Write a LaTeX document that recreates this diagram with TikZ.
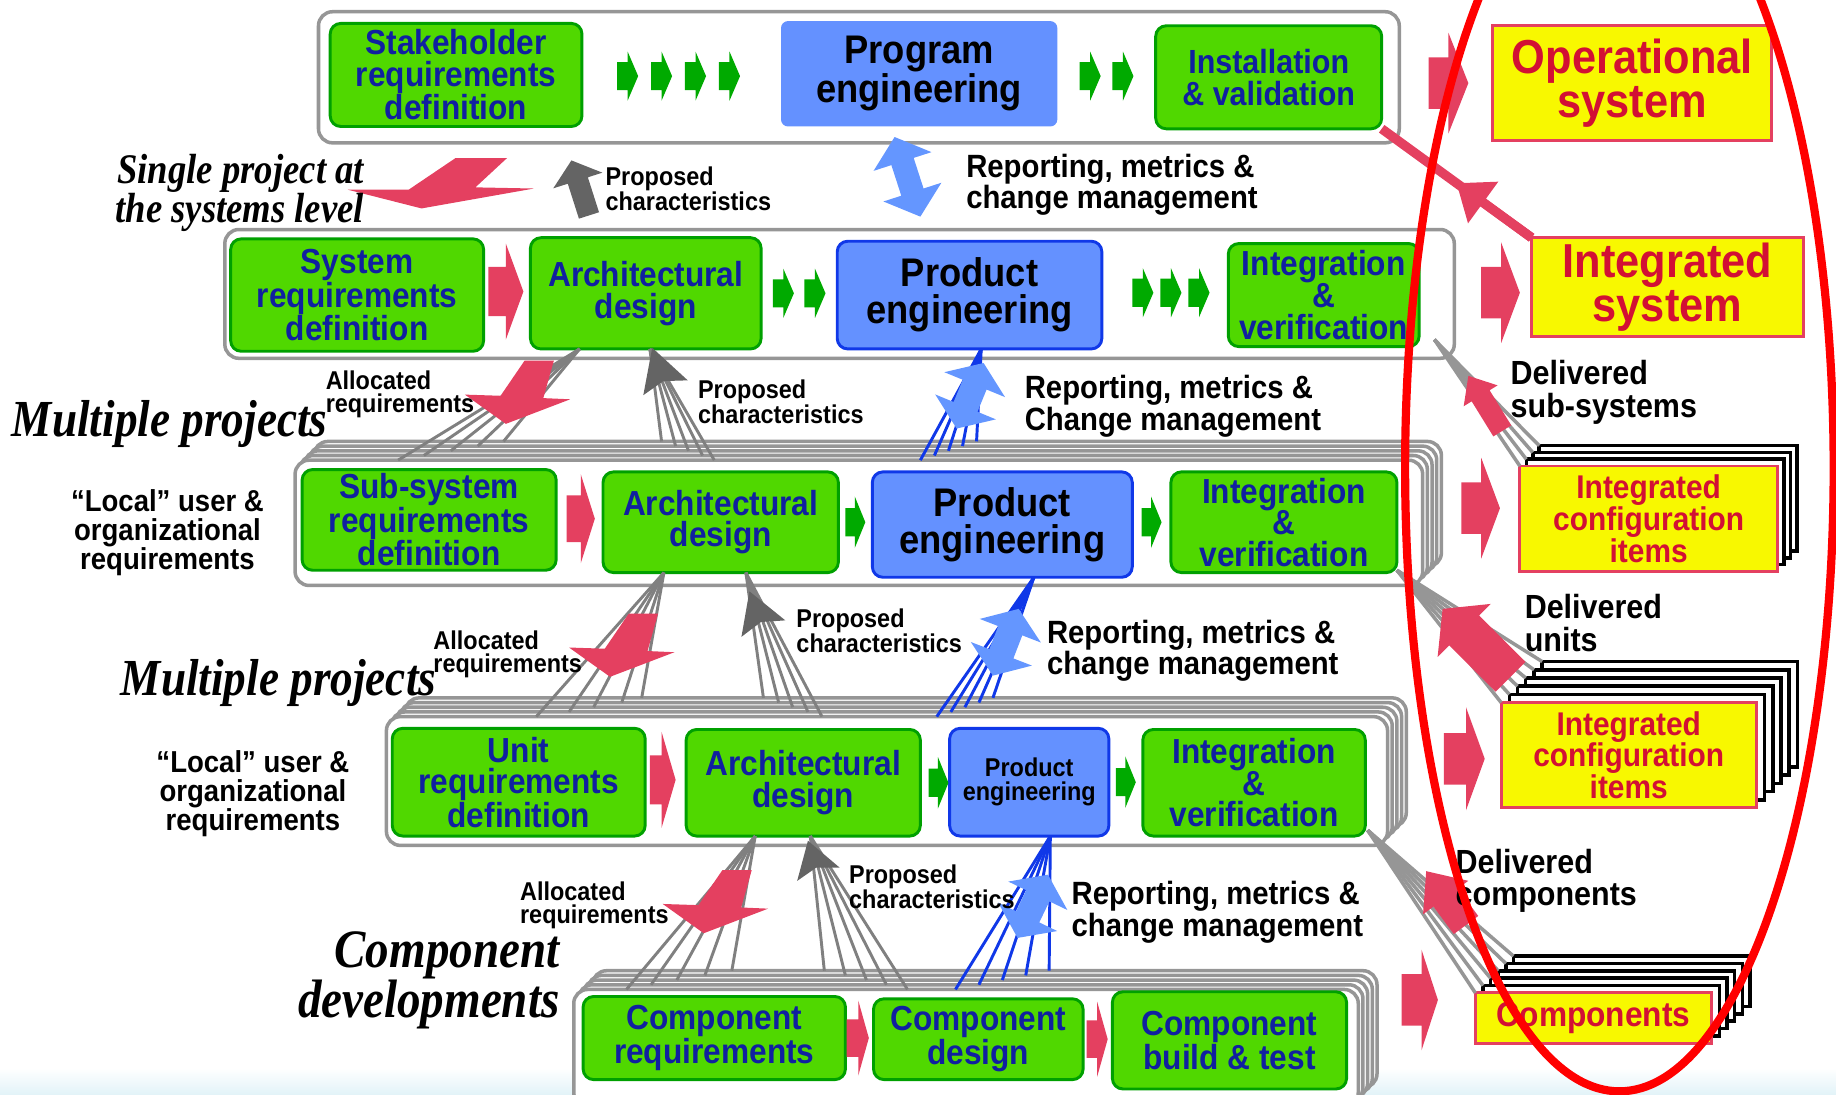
\documentclass[tikz,border=0pt]{standalone}
\usepackage{fontspec}
\setmainfont{Liberation Sans}[FakeStretch=0.91]
\newfontfamily\serifbi{Liberation Serif}[FakeStretch=0.87]
\usetikzlibrary{calc}

\definecolor{gfill}{RGB}{80,216,0}
\definecolor{gline}{RGB}{0,160,0}
\definecolor{navy}{RGB}{16,32,160}
\definecolor{bfill}{RGB}{100,145,255}
\definecolor{bline}{RGB}{16,56,232}
\definecolor{chev}{RGB}{0,170,0}
\definecolor{redc}{RGB}{228,64,96}
\definecolor{yfill}{RGB}{248,248,0}
\definecolor{crim}{RGB}{210,16,52}
\definecolor{ogray}{RGB}{150,150,150}
\definecolor{fgray}{RGB}{128,128,128}
\definecolor{dgray}{RGB}{100,100,100}
\definecolor{lblue}{RGB}{100,150,255}
\definecolor{dblue}{RGB}{16,56,232}
\definecolor{ered}{RGB}{255,0,0}
\definecolor{haze}{RGB}{226,243,248}

% tall, slightly condensed bold sans; #1 nominal size, #2 leading
\newcommand\fs[2]{\fontsize{\fpeval{#1*1.1}}{\fpeval{#2*1.08}}\selectfont\bfseries}
\newcommand\fsi[2]{\serifbi\fontsize{\fpeval{#1*1.2}}{\fpeval{#2*1.05}}\selectfont\bfseries\itshape}

% block arrow: style, tail, tip, half shaft, half head, head length
\newcommand\blockarrow[6]{%
  \coordinate (ba-c) at ($(#3)!#6!(#2)$);
  \fill[#1] ($(#2)!#4!90:(#3)$) -- ($(ba-c)!#4!-90:(#2)$) -- ($(ba-c)!#5!-90:(#2)$) -- (#3)
    -- ($(ba-c)!#5!90:(#2)$) -- ($(ba-c)!#4!90:(#2)$) -- ($(#2)!#4!-90:(#3)$) -- cycle;}
% horizontal block arrow: style, start, length, half shaft, half head, head length
\newcommand\harrow[6]{%
  \coordinate (ha-t) at (#2);
  \coordinate (ha-h) at ($(ha-t)+(#3,0)$);
  \blockarrow{#1}{ha-t}{ha-h}{#4}{#5}{#6}}
% double-headed block arrow: style, tip A, tip B, half shaft, half head, head length
\newcommand\dblarrow[6]{%
  \coordinate (da-a) at ($(#2)!#6!(#3)$);
  \coordinate (da-b) at ($(#3)!#6!(#2)$);
  \fill[#1] (#2) -- ($(da-a)!#5!90:(#3)$) -- ($(da-a)!#4!90:(#3)$) -- ($(da-b)!#4!-90:(#2)$)
    -- ($(da-b)!#5!-90:(#2)$) -- (#3) -- ($(da-b)!#5!90:(#2)$) -- ($(da-b)!#4!90:(#2)$)
    -- ($(da-a)!#4!-90:(#3)$) -- ($(da-a)!#5!-90:(#3)$) -- cycle;}
% dart head: style, tip, direction point, wing distance, notch distance, half width
\newcommand\dart[6]{%
  \coordinate (dt-w) at ($(#2)!#4!(#3)$);
  \fill[#1] (#2) -- ($(dt-w)!#6!90:(#2)$) -- ($(#2)!#5!(#3)$) -- ($(dt-w)!#6!-90:(#2)$) -- cycle;}
% stacked copies behind a box: style, name, cx, cy, w, h, count, dx, dy
\newcommand\copies[9]{%
  \foreach \k in {#7,...,1}{%
    \node[#1, minimum width=#5pt, minimum height=#6pt] (#2-\k) at ({#3+\k*(#8)},{#4+\k*(#9)}) {};}}
% fan of lines from one source to the tops of a stack: style, source, stack, k/x list
\newcommand\fan[4]{%
  \foreach \k/\tx in {#4}{\draw[#1] let \p1=(#3-\k.north) in (#2) -- (\tx pt,\y1);}}

\tikzset{
  outerbox/.style={draw=ogray, fill=white, line width=3pt, rounded corners=12pt, inner sep=0pt, outer sep=0pt},
  gbox/.style={draw=gline, fill=gfill, line width=2.5pt, rounded corners=9pt, inner sep=0pt, outer sep=0pt, text=navy, align=center, font=\fs{27}{25}},
  bluebox/.style={draw=bline, fill=bfill, line width=2.5pt, rounded corners=9pt, inner sep=0pt, outer sep=0pt, align=center, font=\fs{31}{29}},
  progbox/.style={fill=bfill, rounded corners=6pt, inner sep=0pt, outer sep=0pt, align=center, font=\fs{31}{29}},
  yelbox/.style={draw=redc, fill=yfill, line width=2.5pt, inner sep=0pt, outer sep=0pt, text=crim, align=center},
  blackbox/.style={draw=black, fill=white, line width=3pt, inner sep=0pt, outer sep=0pt},
  smallnote/.style={inner sep=0pt, align=left, font=\fs{20}{18.5}},
  reptext/.style={inner sep=0pt, align=left, font=\fs{25}{22}},
  delivtext/.style={inner sep=0pt, align=left, font=\fs{26}{25.5}},
  localtext/.style={inner sep=0pt, align=center, font=\fs{23.5}{23}},
  lvltext/.style={inner sep=0pt, font=\fsi{37}{36}},
  gfan/.style={draw=fgray, line width=2.5pt},
  bfan/.style={draw=dblue, line width=2.5pt},
  dfan/.style={draw=ogray, line width=3pt},
  bolt/.pic={\fill[redc] (16,-54) -- (41,-54) -- (32,-22) -- (55,-21) -- (0,0) -- (-35,-25) -- (-4.5,-24) -- cycle;},
  topbolt/.pic={\fill[redc] (29,-43) -- (73,-43) -- (46,-18) -- (96,-17) -- (0,0) -- (-63,-16) -- (-11,-16) -- cycle;},
}

\begin{document}
\begin{tikzpicture}[x=1pt,y=-1pt]
\path[use as bounding box] (0,0) rectangle (1568,935);
\clip (0,0) rectangle (1568,935);
\fill[top color=white, bottom color=haze] (0,912) rectangle (1568,935);

% ---------- system level, programme row
\node[outerbox, minimum width=923pt, minimum height=112pt] (R1) at (733.5,66) {};
\node[gbox, minimum width=215pt, minimum height=88pt] (stake) at (389.5,64) {Stakeholder\\requirements\\definition};
\node[progbox, minimum width=236pt, minimum height=90pt] (prog) at (785,63) {Program\\engineering};
\node[gbox, minimum width=193pt, minimum height=88pt, font=\fs{26}{25}] (inst) at (1083.5,66) {Installation\\\& validation};
\node[yelbox, minimum width=238pt, minimum height=98pt, font=\fs{37}{34.5}] (opsys) at (1394,71) {Operational\\system};
\foreach \d in {30,59,88,117} {\harrow{chev}{$(stake.east)+(\d,1)$}{18}{12pt}{21pt}{9pt}}
\foreach \d in {19,47} {\harrow{chev}{$(prog.east)+(\d,2)$}{18}{12pt}{21pt}{9pt}}
\harrow{redc}{$(R1.east)+(25,5)$}{34}{22pt}{43pt}{17pt}

% ---------- system row
\node[outerbox, minimum width=1050pt, minimum height=110pt] (R2) at (717,251) {};
\node[gbox, minimum width=216pt, minimum height=96pt] (sysreq) at (305,252) {System\\requirements\\definition};
\node[gbox, minimum width=197pt, minimum height=95pt] (arch2) at (551.5,250.5) {Architectural\\design};
\node[bluebox, minimum width=226pt, minimum height=92pt] (prod2) at (828,252) {Product\\engineering};
\node[gbox, minimum width=163pt, minimum height=88pt] (integ2) at (1130.5,252) {Integration\\\&\\verification};
\node[yelbox, minimum width=232pt, minimum height=84pt, font=\fs{37}{34.5}] (intsys) at (1424,245) {Integrated\\system};
\harrow{redc}{$(sysreq.east)+(4,-3)$}{30}{21pt}{41pt}{15pt}
\foreach \d in {10,37} {\harrow{chev}{$(arch2.east)+(\d,0)$}{18}{12pt}{21pt}{9pt}}
\foreach \d in {26,50,74} {\harrow{chev}{$(prod2.east)+(\d,-2)$}{18}{12pt}{21pt}{9pt}}
\harrow{redc}{$(R2.east)+(23,-1)$}{33}{22pt}{43pt}{16pt}

% ---------- sub-system row
\copies{outerbox}{R3}{733.5}{446.5}{963}{107}{4}{4}{-4}
\node[outerbox, minimum width=963pt, minimum height=107pt, alias=R3-0] (R3) at (733.5,446.5) {};
\node[gbox, minimum width=217pt, minimum height=86pt] (subreq) at (366.5,444) {Sub-system\\requirements\\definition};
\node[gbox, minimum width=201pt, minimum height=86pt] (arch3) at (615.5,446) {Architectural\\design};
\node[bluebox, minimum width=222pt, minimum height=90pt] (prod3) at (856,448) {Product\\engineering};
\node[gbox, minimum width=193pt, minimum height=86pt] (integ3) at (1096.5,446) {Integration\\\&\\verification};
\harrow{redc}{$(subreq.east)+(9,-1)$}{24}{20pt}{38pt}{12pt}
\harrow{chev}{$(arch3.east)+(6,0)$}{17}{12pt}{22pt}{9pt}
\harrow{chev}{$(prod3.east)+(8,-2)$}{17}{12pt}{22pt}{9pt}
\harrow{redc}{$(R3.east)+(33,-12.5)$}{33}{22pt}{43pt}{16pt}
\copies{blackbox}{ici1}{1408}{443}{220}{90}{3}{5.5}{-5.8}
\node[yelbox, minimum width=220pt, minimum height=90pt, font=\fs{25.5}{23}, alias=ici1-0] (ici1) at (1408,443) {Integrated\\configuration\\items};

% ---------- unit row
\copies{outerbox}{R4}{757.5}{667}{855}{110}{4}{4}{-4}
\node[outerbox, minimum width=855pt, minimum height=110pt, alias=R4-0] (R4) at (757.5,667) {};
\node[gbox, minimum width=216pt, minimum height=92pt] (unitreq) at (443,668) {Unit\\requirements\\definition};
\node[gbox, minimum width=200pt, minimum height=91pt] (arch4) at (686,668.5) {Architectural\\design};
\node[bluebox, minimum width=136pt, minimum height=92pt, font=\fs{20}{19}] (prod4) at (879,668) {Product\\engineering};
\node[gbox, minimum width=190pt, minimum height=91pt] (integ4) at (1071,668.5) {Integration\\\&\\verification};
\harrow{redc}{$(unitreq.east)+(4,-2)$}{22}{21pt}{41pt}{12pt}
\harrow{chev}{$(arch4.east)+(7,0)$}{17}{12pt}{22pt}{9pt}
\harrow{chev}{$(prod4.east)+(6,0)$}{17}{12pt}{22pt}{9pt}
\harrow{redc}{$(R4.east)+(48,-19)$}{35}{22pt}{44pt}{16pt}
\copies{blackbox}{ici2}{1391}{645}{218}{90}{5}{7}{-7}
\node[yelbox, minimum width=218pt, minimum height=90pt, font=\fs{25.5}{23}, alias=ici2-0] (ici2) at (1391,645) {Integrated\\configuration\\items};

% ---------- component row
\copies{outerbox}{R5}{825}{895}{670}{100}{4}{4}{-4}
\node[outerbox, minimum width=670pt, minimum height=100pt, alias=R5-0] (R5) at (825,895) {};
\node[gbox, minimum width=224pt, minimum height=71pt] (compreq) at (610,886.5) {Component\\requirements};
\node[gbox, minimum width=179pt, minimum height=69pt] (compdes) at (835.5,887.5) {Component\\design};
\node[gbox, minimum width=200pt, minimum height=83pt] (compbld) at (1050,888.5) {Component\\build \& test};
\harrow{redc}{$(compreq.east)+(1,0)$}{19}{16pt}{32pt}{9pt}
\harrow{redc}{$(compdes.east)+(3,0)$}{18}{16pt}{32pt}{9pt}
\harrow{redc}{$(R5.east)+(37,-41)$}{31}{22pt}{43pt}{14pt}
\copies{blackbox}{comp}{1361}{869.5}{202}{43}{5}{6.5}{-6.3}
\node[yelbox, minimum width=202pt, minimum height=43pt, font=\fs{27}{27}, alias=comp-0] (comp) at (1361,869.5) {Components};

% ---------- flows between levels
\coordinate (A23) at ($(arch2.south west)+(42,0)$);
\coordinate (P23) at ($(arch2.south west)+(102,0)$);
\coordinate (B23) at ($(prod2.south west)+(123,0)$);
\coordinate (A34) at ($(arch3.south west)+(52,0)$);
\coordinate (P34) at ($(arch3.south west)+(122,0)$);
\coordinate (B34) at ($(prod3.south west)+(138,0)$);
\coordinate (A45) at ($(arch4.south west)+(59,0)$);
\coordinate (P45) at ($(arch4.south west)+(106,0)$);
\coordinate (B45) at ($(prod4.south west)+(86,0)$);
\fan{gfan}{A23}{R3}{0/340,1/362,2/385,3/408,4/430}
\fan{gfan}{P23}{R3}{0/610,1/600,2/588,3/577,4/565}
\fan{bfan}{B23}{R3}{0/786,1/798,2/810,3/822,4/834}
\fan{gfan}{A34}{R4}{0/458,1/486,2/507,3/531,4/548}
\fan{gfan}{P34}{R4}{0/702,1/690,2/677,3/665,4/652}
\fan{bfan}{B34}{R4}{0/800,1/812,2/824,3/836,4/848}
\fan{gfan}{A45}{R5}{0/535,1/556,2/578,3/602,4/625}
\fan{gfan}{P45}{R5}{0/775,1/757,2/740,3/722,4/704}
\fan{bfan}{B45}{R5}{0/816,1/836,2/856,3/876,4/896}

\pic at (360,178) {topbolt};
\blockarrow{dgray}{503,184}{488,137}{9pt}{22pt}{18pt}
\dblarrow{lblue}{764,117}{786,185}{10pt}{26pt}{22pt}

\pic at (432,362) {bolt};
\dart{dgray}{557,297}{568,330}{36pt}{30pt}{20pt}
\dblarrow{lblue}{840,310}{817,366}{11pt}{28pt}{20pt}

\pic at (521,578) {bolt};
\dart{dgray}{640,505}{652,537}{34pt}{28pt}{20pt}
\dblarrow{lblue}{870,520}{848,577}{11pt}{28pt}{20pt}

\pic at (601,797) {bolt};
\dart{dgray}{690,718}{700,750}{30pt}{24pt}{19pt}
\dblarrow{lblue}{895,747}{869,801}{11pt}{28pt}{20pt}

% ---------- deliveries upwards
\coordinate (D23) at ($(integ2.south east)+(13,-6)$);
\foreach \k in {0,...,3} {\draw[dfan] (D23) -- (ici1-\k.north west);}
\coordinate (D34) at ($(integ3.south east)+(0,-2)$);
\foreach \k in {0,...,5} {\draw[dfan] (D34) -- (ici2-\k.north west);}
\coordinate (D45) at ($(integ4.south east)+(2,-5)$);
\foreach \k in {0,...,5} {\draw[dfan] (D45) -- (comp-\k.north west);}
\blockarrow{redc}{1283,368}{1254,321}{9pt}{17pt}{20pt}
\blockarrow{redc}{1290,578}{1232,520}{18pt}{32pt}{26pt}
\blockarrow{redc}{1252,790}{1218,744}{13pt}{24pt}{28pt}
\draw[redc, line width=8pt] (intsys.north west) -- (inst.south east);
\coordinate (dm) at ($(intsys.north west)!0.5!(inst.south east)$);
\blockarrow{redc}{intsys.north west}{dm}{4pt}{22pt}{28pt}

% ---------- labels
\node[anchor=east, align=right, inner sep=0pt, font=\fsi{30}{28}] (single) at (311,165) {Single project at\\the systems level};
\node[smallnote, anchor=west] (pc1) at (517,161) {Proposed\\characteristics};
\node[reptext, anchor=west] (rm1) at (825,158) {Reporting, metrics \&\\change management};
\node[lvltext, anchor=west] (mp1) at (10,362) {Multiple projects};
\node[smallnote, anchor=west] (ar2) at (278,337) {Allocated\\requirements};
\node[smallnote, anchor=west] (pc2) at (596,343) {Proposed\\characteristics};
\node[reptext, anchor=west] (rm2) at (875,347) {Reporting, metrics \&\\Change management};
\node[delivtext, anchor=west] (ds) at (1290,335) {Delivered\\sub-systems};
\node[localtext] (loc3) at (143,455) {“Local” user \&\\organizational\\requirements};
\node[lvltext, anchor=west] (mp2) at (103,583) {Multiple projects};
\node[smallnote, anchor=west] (ar3) at (370,559) {Allocated\\requirements};
\node[smallnote, anchor=west] (pc3) at (680,539) {Proposed\\characteristics};
\node[reptext, anchor=west] (rm3) at (894,556) {Reporting, metrics \&\\change management};
\node[delivtext, anchor=west] (du) at (1302,532) {Delivered\\units};
\node[localtext] (loc4) at (216,678) {“Local” user \&\\organizational\\requirements};
\node[anchor=east, align=right, inner sep=0pt, font=\fsi{38.5}{34}] (cd) at (478,837) {Component\\developments};
\node[smallnote, anchor=west] (ar4) at (444,773) {Allocated\\requirements};
\node[smallnote, anchor=west] (pc4) at (725,757) {Proposed\\characteristics};
\node[reptext, anchor=west] (rm4) at (915,779) {Reporting, metrics \&\\change management};
\node[delivtext, anchor=west] (dc) at (1243,752) {Delivered\\components};

% ---------- the delivered-products envelope
\draw[ered, line width=7pt] (1383,400) ellipse [x radius=183, y radius=532];
\end{tikzpicture}
\end{document}
